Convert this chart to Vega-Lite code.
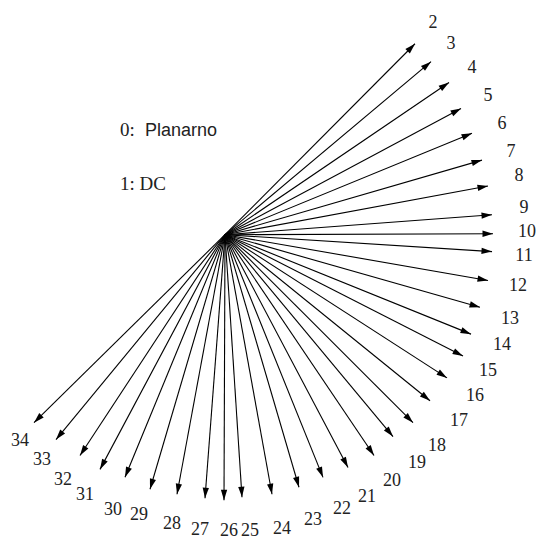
{
  "$schema": "https://vega.github.io/schema/vega-lite/v6.json",
  "width": 538,
  "height": 540,
  "padding": 0,
  "autosize": {"type": "fit", "contains": "padding"},
  "background": "white",
  "config": {"view": {"stroke": null}},
  "data": {
    "values": [
      {"id": "2", "x0": 225, "y0": 236, "x": 415, "y": 44, "dir": 44.7, "lx": 433, "ly": 23},
      {"id": "3", "x0": 225, "y0": 236, "x": 431, "y": 62, "dir": 49.8, "lx": 451, "ly": 44},
      {"id": "4", "x0": 225, "y0": 236, "x": 449, "y": 83, "dir": 55.7, "lx": 472, "ly": 68},
      {"id": "5", "x0": 225, "y0": 236, "x": 461, "y": 109, "dir": 61.7, "lx": 488, "ly": 97},
      {"id": "6", "x0": 225, "y0": 236, "x": 472, "y": 134, "dir": 67.6, "lx": 502, "ly": 125},
      {"id": "7", "x0": 225, "y0": 236, "x": 482, "y": 161, "dir": 73.7, "lx": 511, "ly": 153},
      {"id": "8", "x0": 225, "y0": 236, "x": 488, "y": 187, "dir": 79.4, "lx": 519, "ly": 177},
      {"id": "9", "x0": 225, "y0": 236, "x": 492, "y": 216, "dir": 85.7, "lx": 524, "ly": 209},
      {"id": "10", "x0": 225, "y0": 236, "x": 493, "y": 235, "dir": 89.8, "lx": 527, "ly": 233},
      {"id": "11", "x0": 225, "y0": 236, "x": 492, "y": 253, "dir": 93.6, "lx": 524, "ly": 257},
      {"id": "12", "x0": 225, "y0": 236, "x": 488, "y": 282, "dir": 99.9, "lx": 518, "ly": 288},
      {"id": "13", "x0": 225, "y0": 236, "x": 480, "y": 309, "dir": 106.0, "lx": 510, "ly": 321},
      {"id": "14", "x0": 225, "y0": 236, "x": 471, "y": 336, "dir": 112.1, "lx": 502, "ly": 347},
      {"id": "15", "x0": 225, "y0": 236, "x": 463, "y": 358, "dir": 117.1, "lx": 488, "ly": 373},
      {"id": "16", "x0": 225, "y0": 236, "x": 447, "y": 380, "dir": 123.0, "lx": 475, "ly": 398},
      {"id": "17", "x0": 225, "y0": 236, "x": 430, "y": 403, "dir": 129.2, "lx": 459, "ly": 423},
      {"id": "18", "x0": 225, "y0": 236, "x": 413, "y": 425, "dir": 135.2, "lx": 437, "ly": 448},
      {"id": "19", "x0": 225, "y0": 236, "x": 393, "y": 439, "dir": 140.4, "lx": 417, "ly": 466},
      {"id": "20", "x0": 225, "y0": 236, "x": 374, "y": 458, "dir": 146.1, "lx": 392, "ly": 484},
      {"id": "21", "x0": 225, "y0": 236, "x": 348, "y": 470, "dir": 152.3, "lx": 367, "ly": 500},
      {"id": "22", "x0": 225, "y0": 236, "x": 323, "y": 480, "dir": 158.1, "lx": 342, "ly": 512},
      {"id": "23", "x0": 225, "y0": 236, "x": 299, "y": 490, "dir": 163.8, "lx": 313, "ly": 523},
      {"id": "24", "x0": 225, "y0": 236, "x": 272, "y": 497, "dir": 169.8, "lx": 282, "ly": 532},
      {"id": "25", "x0": 225, "y0": 236, "x": 242, "y": 500, "dir": 176.3, "lx": 250, "ly": 534},
      {"id": "26", "x0": 225, "y0": 236, "x": 224, "y": 503, "dir": 180.2, "lx": 229, "ly": 534},
      {"id": "27", "x0": 225, "y0": 236, "x": 205, "y": 501, "dir": 184.3, "lx": 200, "ly": 533},
      {"id": "28", "x0": 225, "y0": 236, "x": 177, "y": 497, "dir": 190.4, "lx": 172, "ly": 527},
      {"id": "29", "x0": 225, "y0": 236, "x": 150, "y": 492, "dir": 196.3, "lx": 139, "ly": 518},
      {"id": "30", "x0": 225, "y0": 236, "x": 125, "y": 480, "dir": 202.3, "lx": 113, "ly": 513},
      {"id": "31", "x0": 225, "y0": 236, "x": 100, "y": 472, "dir": 207.9, "lx": 85, "ly": 498},
      {"id": "32", "x0": 225, "y0": 236, "x": 80, "y": 458, "dir": 213.2, "lx": 63, "ly": 483},
      {"id": "33", "x0": 225, "y0": 236, "x": 56, "y": 442, "dir": 219.4, "lx": 42, "ly": 463},
      {"id": "34", "x0": 225, "y0": 236, "x": 34, "y": 425, "dir": 225.3, "lx": 20, "ly": 443}
    ]
  },
  "layer": [
    {
      "mark": {"type": "rule", "color": "black", "strokeWidth": 1.1},
      "encoding": {
        "x": {"field": "x0", "type": "quantitative", "scale": {"domain": [0, 538], "nice": false, "zero": false}, "axis": null},
        "y": {"field": "y0", "type": "quantitative", "scale": {"domain": [0, 540], "nice": false, "zero": false, "reverse": true}, "axis": null},
        "x2": {"field": "x"},
        "y2": {"field": "y"}
      }
    },
    {
      "mark": {"type": "point", "shape": "M0,0L0.6,2L-0.6,2Z", "filled": true, "color": "black", "opacity": 1, "size": 110},
      "encoding": {
        "x": {"field": "x", "type": "quantitative"},
        "y": {"field": "y", "type": "quantitative"},
        "angle": {"field": "dir", "type": "quantitative", "scale": null}
      }
    },
    {
      "mark": {"type": "text", "font": "Liberation Serif", "fontSize": 18, "align": "center", "baseline": "middle", "color": "#222"},
      "encoding": {
        "x": {"field": "lx", "type": "quantitative"},
        "y": {"field": "ly", "type": "quantitative"},
        "text": {"field": "id"}
      }
    },
    {
      "data": {"values": [{}]},
      "mark": {"type": "text", "font": "Liberation Serif", "fontSize": 19, "align": "left", "baseline": "alphabetic", "color": "#222", "text": "0:"},
      "encoding": {"x": {"datum": 120}, "y": {"datum": 137}}
    },
    {
      "data": {"values": [{}]},
      "mark": {"type": "text", "font": "Liberation Sans", "fontSize": 18, "align": "left", "baseline": "alphabetic", "color": "#222", "text": "Planarno"},
      "encoding": {"x": {"datum": 145}, "y": {"datum": 137}}
    },
    {
      "data": {"values": [{}]},
      "mark": {"type": "text", "font": "Liberation Serif", "fontSize": 19, "align": "left", "baseline": "alphabetic", "color": "#222", "text": "1: DC"},
      "encoding": {"x": {"datum": 120}, "y": {"datum": 191}}
    }
  ]
}
